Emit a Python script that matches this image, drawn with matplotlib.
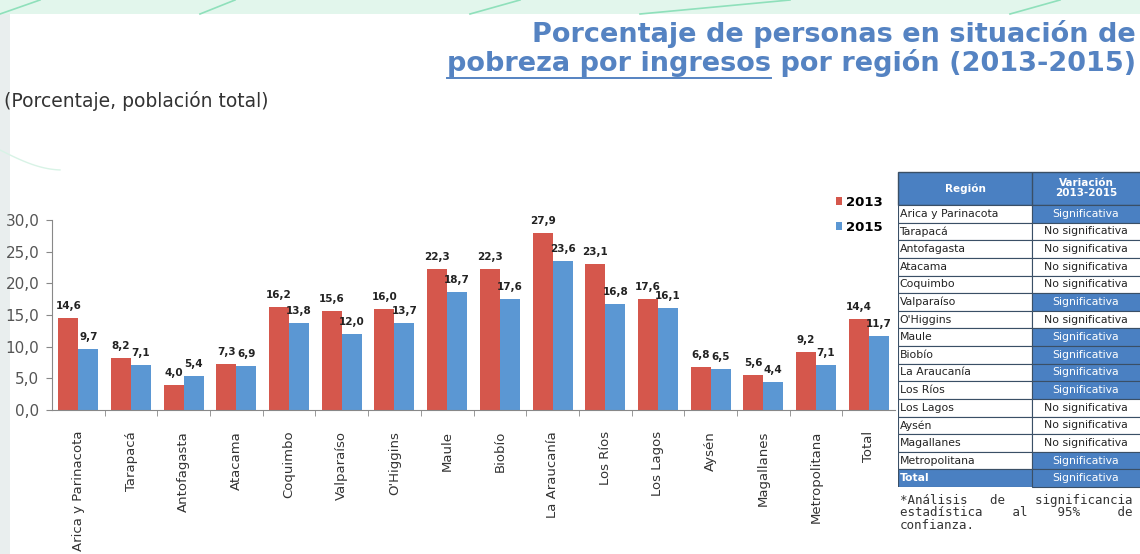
import numpy as np
import matplotlib
matplotlib.use("Agg")
import matplotlib.pyplot as plt
from matplotlib.patches import Rectangle

# data
regions = ["Arica y Parinacota", "Tarapacá", "Antofagasta", "Atacama", "Coquimbo",
           "Valparaíso", "O'Higgins", "Maule", "Biobío", "La Araucanía", "Los Ríos",
           "Los Lagos", "Aysén", "Magallanes", "Metropolitana", "Total"]
pct_2013 = [14.6, 8.2, 4.0, 7.3, 16.2, 15.6, 16.0, 22.3, 22.3, 27.9, 23.1, 17.6, 6.8, 5.6, 9.2, 14.4]
pct_2015 = [9.7, 7.1, 5.4, 6.9, 13.8, 12.0, 13.7, 18.7, 17.6, 23.6, 16.8, 16.1, 6.5, 4.4, 7.1, 11.7]
table_regions = ["Arica y Parinacota", "Tarapacá", "Antofagasta", "Atacama", "Coquimbo",
                 "Valparaíso", "O'Higgins", "Maule", "Biobío", "La Araucanía", "Los Ríos",
                 "Los Lagos", "Aysén", "Magallanes", "Metropolitana", "Total"]
significant = [True, False, False, False, False, True, False, True, True, True, True,
               False, False, False, True, True]

red = "#d5574c"
blue = "#5b97d3"
title_col = "#5583c2"
W, H = 1140, 554

fig = plt.figure(figsize=(W / 100, H / 100), dpi=100)
fig.patch.set_facecolor("white")

# slide background bits
bg = fig.add_axes([0, 0, 1, 1], zorder=-5)
bg.set_xlim(0, W)
bg.set_ylim(H, 0)
bg.axis("off")
bg.add_patch(Rectangle((0, 0), W, 14, color="#e2f6ec", lw=0))
for x0, x1 in [(0, 40), (200, 235), (470, 520), (640, 790), (1010, 1060)]:
    bg.plot([x0, x1], [14, 0], color="#8fe0bb", lw=1.2)
bg.add_patch(Rectangle((0, 14), 10, H - 14, color="#e9eeee", lw=0))
bg.plot(np.linspace(0, 60, 30), 150 + 20 * np.sin(np.linspace(0, 1.5, 30)), color="#d8f3e6", lw=1)

# titles
tsize = 19.5
fig.text(1136 / W, 1 - 34 / H, "Porcentaje de personas en situación de", ha="right", va="center",
         fontsize=tsize, fontweight="bold", color=title_col)
t2 = fig.text(1136 / W, 1 - 63 / H, "pobreza por ingresos por región (2013-2015)", ha="right",
              va="center", fontsize=tsize, fontweight="bold", color=title_col)
fig.canvas.draw()
r = fig.canvas.get_renderer()
full = t2.get_window_extent(r)
tmp = fig.text(0, 0, "pobreza por ingresos", fontsize=tsize, fontweight="bold")
wpart = tmp.get_window_extent(r).width
tmp.remove()
bg.plot([full.x0, full.x0 + wpart], [H - full.y0 + 1, H - full.y0 + 1], color=title_col, lw=1.4)

fig.text(4 / W, 1 - 101 / H, "(Porcentaje, población total)", ha="left", va="center",
         fontsize=13.5, color="#333333")

# bar chart
ax = fig.add_axes([52 / W, 1 - 410 / H, (895 - 52) / W, 190 / H])
x = np.arange(len(regions))
bw = 0.38
b1 = ax.bar(x - bw / 2, pct_2013, bw, color=red, label="2013")
b2 = ax.bar(x + bw / 2, pct_2015, bw, color=blue, label="2015")
fmt = lambda v: f"{v:.1f}".replace(".", ",")
for bars, vals in [(b1, pct_2013), (b2, pct_2015)]:
    for b, v in zip(bars, vals):
        ax.annotate(fmt(v), (b.get_x() + b.get_width() / 2, v), xytext=(0, 5),
                    textcoords="offset points", ha="center", va="bottom",
                    fontsize=7.5, fontweight="bold", color="#222222")

ax.set_xlim(-0.5, len(regions) - 0.5)
ax.set_ylim(0, 30)
ax.set_yticks(np.arange(0, 31, 5))
ax.set_yticklabels([fmt(v) for v in np.arange(0, 31, 5)])
ax.set_xticks(x)
ax.set_xticklabels(regions, rotation=90, fontsize=9.5, color="#333333")
ax.set_xticks(np.arange(0.5, len(regions) - 0.5, 1), minor=True)
ax.tick_params(axis="x", which="major", length=0, pad=15)
ax.tick_params(axis="x", which="minor", length=4, color="#888888")
ax.tick_params(axis="y", length=4, color="#888888", labelsize=11, labelcolor="#555555", pad=5)
for s in ["top", "right"]:
    ax.spines[s].set_visible(False)
for s in ["left", "bottom"]:
    ax.spines[s].set_color("#888888")
ax.patch.set_alpha(0)
leg = ax.legend(loc="upper right", bbox_to_anchor=(1.0, 1.19), frameon=False,
                handlelength=0.5, handleheight=0.5, handletextpad=0.3, labelspacing=0.9,
                prop={"size": 9.5, "weight": "bold"})

# significance table
tx = fig.add_axes([898 / W, 1 - 487 / H, (1140 - 898) / W, (487 - 172) / H])
tx.set_xlim(0, 242)
tx.set_ylim(315, 0)
tx.axis("off")
split = 134
hdr_h = 33
row_h = (315 - hdr_h) / len(table_regions)
tbl_blue = "#4a80c2"
edge = "#3a4f66"
tx.add_patch(Rectangle((0, 0), 250, hdr_h, facecolor=tbl_blue, edgecolor=edge, lw=1, clip_on=False))
tx.plot([split, split], [0, hdr_h], color=edge, lw=1)
tx.text(split / 2, hdr_h / 2, "Región", ha="center", va="center", fontsize=7.5,
        fontweight="bold", color="white")
tx.text((split + 242) / 2, hdr_h / 2, "Variación\n2013-2015", ha="center", va="center",
        fontsize=7.5, fontweight="bold", color="white", linespacing=1.0)
for i, (name, sig) in enumerate(zip(table_regions, significant)):
    y0 = hdr_h + i * row_h
    is_total = name == "Total"
    tx.add_patch(Rectangle((0, y0), split, row_h, facecolor=tbl_blue if is_total else "white",
                           edgecolor=edge, lw=0.8))
    tx.add_patch(Rectangle((split, y0), 250 - split, row_h, facecolor=tbl_blue if sig else "white",
                           edgecolor=edge, lw=0.8, clip_on=False))
    tx.text(1.5, y0 + row_h / 2, name, ha="left", va="center", fontsize=7.8,
            color="white" if is_total else "#222222", fontweight="bold" if is_total else "normal")
    tx.text((split + 242) / 2, y0 + row_h / 2, "Significativa" if sig else "No significativa",
            ha="center", va="center", fontsize=7.8, color="white" if sig else "#222222")

# footnote, spaced out like the original
fig.text(900 / W, 1 - 494 / H,
         "*Análisis   de    significancia\nestadística    al    95%     de\nconfianza.",
         ha="left", va="top", fontsize=9, family="DejaVu Sans Mono", color="#333333",
         linespacing=0.95)

fig.savefig("out.png", dpi=100)
